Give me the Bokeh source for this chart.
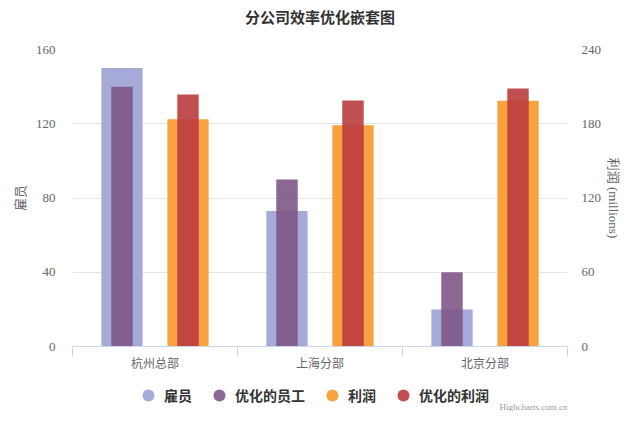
from bokeh.plotting import figure
from bokeh.layouts import column
from bokeh.models import (Range1d, LinearAxis, FixedTicker, Legend, LegendItem, Label)
from bokeh.embed import file_html
from bokeh.resources import INLINE

categories = ["杭州总部", "上海分部", "北京分部"]
employees = [150, 73, 20]
employees_opt = [140, 90, 40]
profit = [183.6, 178.8, 198.5]
profit_opt = [203.6, 198.8, 208.5]
left_ticks = [0, 40, 80, 120, 160]
right_ticks = [0, 60, 120, 180, 240]

series_names = ["雇员", "优化的员工", "利润", "优化的利润"]
colors = ["#a5aad9", "#7e5686", "#f8a13f", "#ba3c3d"]
alphas = [1.0, 0.9, 1.0, 0.9]

FONT_LBL = "Liberation Serif, Noto Sans CJK SC"
FONT_CJK = "Noto Sans CJK SC"

p = figure(width=624, height=376, output_backend="svg", toolbar_location=None,
           x_range=Range1d(0, 3), y_range=Range1d(0, 160),
           min_border_left=72, min_border_right=56, min_border_top=48,
           min_border_bottom=30, outline_line_color=None, background_fill_color="white",
           border_fill_color="white")
p.extra_y_ranges = {"profit": Range1d(0, 240)}

centers = [i + 0.5 for i in range(len(categories))]
x_emp = [c - 0.2 for c in centers]
x_pro = [c + 0.2 for c in centers]

p.vbar(x=x_emp, top=employees, width=0.25, fill_color=colors[0], fill_alpha=alphas[0], line_color=None)
p.vbar(x=x_emp, top=employees_opt, width=0.13, fill_color=colors[1], fill_alpha=alphas[1], line_color=None)
p.vbar(x=x_pro, top=profit, width=0.25, fill_color=colors[2], fill_alpha=alphas[2], line_color=None, y_range_name="profit")
p.vbar(x=x_pro, top=profit_opt, width=0.13, fill_color=colors[3], fill_alpha=alphas[3], line_color=None, y_range_name="profit")

# Title
p.title.text = "分公司效率优化嵌套图"
p.title.align = "center"
p.title.vertical_align = "top"
p.title.padding = dict(left=0, right=0, top=0, bottom=16)
p.title.text_font = FONT_CJK
p.title.text_font_size = "15px"
p.title.text_font_style = "bold"
p.title.text_color = "#333333"

# Left axis
yl = p.yaxis[0]
yl.ticker = FixedTicker(ticks=left_ticks)
yl.axis_line_color = None
yl.major_tick_line_color = None
yl.major_tick_out = 0
yl.minor_tick_line_color = None
yl.major_label_text_font = FONT_LBL
yl.major_label_text_font_size = "13px"
yl.major_label_text_color = "#666666"
yl.major_label_standoff = 17
yl.axis_label = "雇员"
yl.axis_label_text_font = FONT_CJK
yl.axis_label_text_font_size = "13px"
yl.axis_label_text_font_style = "normal"
yl.axis_label_text_color = "#666666"
yl.axis_label_standoff = 4

# Right axis
yr = LinearAxis(y_range_name="profit", ticker=FixedTicker(ticks=right_ticks))
yr.axis_line_color = None
yr.major_tick_line_color = None
yr.major_tick_out = 0
yr.minor_tick_line_color = None
yr.major_label_text_font = FONT_LBL
yr.major_label_text_font_size = "13px"
yr.major_label_text_color = "#666666"
yr.major_label_standoff = 14
yr.axis_label = "利润 (millions)"
yr.axis_label_text_font = FONT_LBL
yr.axis_label_text_font_size = "13px"
yr.axis_label_text_font_style = "normal"
yr.axis_label_text_color = "#666666"
yr.axis_label_standoff = 2
p.add_layout(yr, "right")

# X axis
xa = p.xaxis[0]
xa.ticker = FixedTicker(ticks=centers, minor_ticks=[0, 1, 2, 3])
xa.major_label_overrides = {c: n for c, n in zip(centers, categories)}
xa.major_tick_line_color = None
xa.minor_tick_line_color = "#ccd6eb"
xa.minor_tick_in = 0
xa.minor_tick_out = 10
xa.axis_line_color = "#ccd6eb"
xa.major_label_text_font = FONT_LBL
xa.major_label_text_font_size = "12px"
xa.major_label_text_color = "#666666"
xa.major_label_standoff = 0

p.xgrid.grid_line_color = None
p.ygrid.grid_line_color = "#e6e6e6"
p.ygrid.ticker = FixedTicker(ticks=left_ticks)

# Legend strip below the chart
p2 = figure(width=624, height=35, output_backend="svg", toolbar_location=None,
            x_range=Range1d(0, 1), y_range=Range1d(0, 1),
            x_axis_type=None, y_axis_type=None, min_border=0,
            min_border_left=0, min_border_right=0, min_border_top=0, min_border_bottom=0,
            outline_line_color=None, background_fill_color="white", border_fill_color="white")
p2.grid.grid_line_color = None
dummies = []
for c, a in zip(colors, alphas):
    d = p2.scatter(x=[-10], y=[-10], marker="circle", size=12, fill_color=c, fill_alpha=a, line_color=None)
    dummies.append(d)
legend = Legend(items=[LegendItem(label=n, renderers=[d]) for n, d in zip(series_names, dummies)],
                orientation="horizontal", location=(61, 1),
                label_text_font=FONT_CJK, label_text_font_size="14px", label_text_font_style="bold",
                label_text_color="#333333", border_line_color=None, background_fill_alpha=0,
                glyph_width=30, glyph_height=30, spacing=12, label_standoff=1, padding=0, margin=0)
p2.add_layout(legend, "center")

credit = Label(x=1, y=0, y_units="screen", text="Highcharts.com.cn",
               text_align="right", text_baseline="bottom", text_font=FONT_LBL,
               text_font_size="9px", text_color="#999999")
p2.add_layout(credit)

layout = column(p, p2)
open("out.html", "w").write(file_html(layout, INLINE))
